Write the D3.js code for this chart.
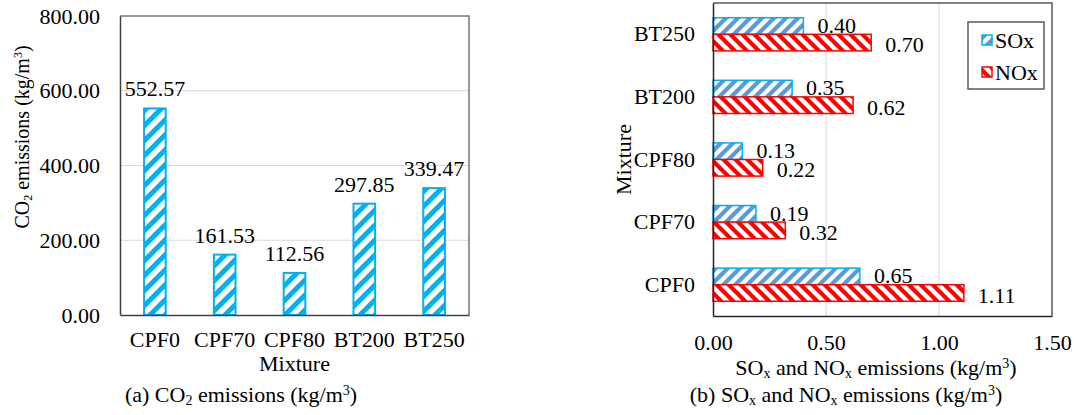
<!DOCTYPE html>
<html>
<head>
<meta charset="utf-8">
<script src="https://cdn.jsdelivr.net/npm/d3@7/dist/d3.min.js"></script>
<style>
  html, body { margin: 0; padding: 0; background: #fff; }
  svg { display: block; }
  svg text { font-family: "Liberation Serif", "Times New Roman", serif; }
</style>
</head>
<body>
<svg id="chart" width="1074" height="415"></svg>
<script>
// ---------- Data ----------
const co2Categories = ["CPF0", "CPF70", "CPF80", "BT200", "BT250"];
const co2Values = [552.57, 161.53, 112.56, 297.85, 339.47];
const co2Ticks = [0, 200, 400, 600, 800];

const gasCategories = ["BT250", "BT200", "CPF80", "CPF70", "CPF0"]; // top to bottom
const gasSeriesNames = ["SOx", "NOx"];
const soxValues = { CPF0: 0.65, CPF70: 0.19, CPF80: 0.13, BT200: 0.35, BT250: 0.40 };
const noxValues = { CPF0: 1.11, CPF70: 0.32, CPF80: 0.22, BT200: 0.62, BT250: 0.70 };
const gasTicks = [0, 0.5, 1.0, 1.5];

// ---------- Setup ----------
const svg = d3.select("#chart");
const FS = 22;
const CAP = 22;
const FONT = "'Liberation Serif', 'Times New Roman', serif";
const defs = svg.append("defs");

function stripePattern(id, color, size, dir, sw) {
  const p = defs.append("pattern").attr("id", id)
    .attr("patternUnits", "userSpaceOnUse")
    .attr("width", size).attr("height", size);
  p.append("rect").attr("width", size).attr("height", size).attr("fill", "#fff");
  const s = size;
  const d = dir === "up"
    ? `M${-s},${s} L${s},${-s} M0,${2*s} L${2*s},0 M${-s},${2*s} L${2*s},${-s}`
    : `M${-s},0 L${s},${2*s} M0,${-s} L${2*s},${s} M${-s},${-s} L${2*s},${2*s}`;
  p.append("path").attr("d", d).attr("stroke", color).attr("stroke-width", sw).attr("fill", "none");
}
stripePattern("co2pat", "#00B0F0", 15, "up", 5);
stripePattern("soxpat", "#5B9BD5", 12, "up", 4.2);
stripePattern("noxpat", "#FF0000", 12, "down", 4.2);

function richText(sel, parts, fs) {
  parts.forEach(([t, mode]) => {
    const ts = sel.append("tspan").text(t);
    if (mode === "sub") ts.attr("font-size", Math.round(fs * 0.62)).attr("baseline-shift", -Math.round(fs * 0.14));
    if (mode === "sup") ts.attr("font-size", Math.round(fs * 0.62)).attr("baseline-shift", Math.round(fs * 0.33));
  });
  return sel;
}

// ---------- Left chart: CO2 ----------
const L = { left: 120, right: 469, top: 16, bottom: 315 };
const xL = d3.scaleBand().domain(co2Categories).range([L.left, L.right]).padding(0);
const yL = d3.scaleLinear().domain([0, 800]).range([L.bottom, L.top]);
const gL = svg.append("g");

gL.selectAll("line.grid").data(co2Ticks.filter(t => t > 0 && t < 800)).enter()
  .append("line").attr("x1", L.left).attr("x2", L.right)
  .attr("y1", d => yL(d)).attr("y2", d => yL(d))
  .attr("stroke", "#D9D9D9").attr("stroke-width", 1);

gL.append("path")
  .attr("d", `M${L.left},${L.top} H${L.right} V${L.bottom}`)
  .attr("fill", "none").attr("stroke", "#767676").attr("stroke-width", 1.5);

const barW = xL.bandwidth() * 0.31;
gL.selectAll("rect.bar").data(co2Values).enter().append("rect")
  .attr("x", (d, i) => xL(co2Categories[i]) + xL.bandwidth() / 2 - barW / 2)
  .attr("y", d => yL(d))
  .attr("width", barW)
  .attr("height", d => yL(0) - yL(d))
  .attr("fill", "url(#co2pat)")
  .attr("stroke", "#00B0F0").attr("stroke-width", 2);

gL.selectAll("text.val").data(co2Values).enter().append("text")
  .attr("x", (d, i) => xL(co2Categories[i]) + xL.bandwidth() / 2)
  .attr("y", d => yL(d) - 12)
  .attr("text-anchor", "middle").attr("font-size", FS).attr("fill", "#000")
  .text(d => d.toFixed(2));

const axL = d3.axisLeft(yL).tickValues(co2Ticks).tickFormat(d => d.toFixed(2)).tickSize(0).tickPadding(20);
const gAxL = gL.append("g").attr("transform", `translate(${L.left},0)`).call(axL);
gAxL.select(".domain").attr("stroke", "#404040").attr("stroke-width", 1.5);
gAxL.selectAll("text").attr("font-size", FS).attr("fill", "#000");

const axB = d3.axisBottom(xL).tickSize(0).tickPadding(16);
const gAxB = gL.append("g").attr("transform", `translate(0,${L.bottom})`).call(axB);
gAxB.select(".domain").attr("stroke", "#404040").attr("stroke-width", 1.5);
gAxB.selectAll("text").attr("font-size", FS).attr("fill", "#000");

gL.append("text").attr("x", (L.left + L.right) / 2).attr("y", 371).attr("text-anchor", "middle")
  .attr("font-size", FS).text("Mixture");

richText(gL.append("text")
  .attr("transform", `translate(29,137) rotate(-90)`)
  .attr("text-anchor", "middle").attr("font-size", 20),
  [["CO", ""], ["2", "sub"], [" emissions (kg/m", ""], ["3", "sup"], [")", ""]], 20);

richText(gL.append("text").attr("x", 241).attr("y", 402).attr("text-anchor", "middle").attr("font-size", CAP),
  [["(a) CO", ""], ["2", "sub"], [" emissions (kg/m", ""], ["3", "sup"], [")", ""]], CAP);

// ---------- Right chart: SOx / NOx ----------
const R = { left: 713, right: 1052, top: 3, bottom: 316 };
const xR = d3.scaleLinear().domain([0, 1.5]).range([R.left, R.right]);
const yR = d3.scaleBand().domain(gasCategories).range([R.top, R.bottom]).padding(0);
const ySub = d3.scaleBand().domain(gasSeriesNames).range([0, yR.bandwidth() * 0.53]).padding(0);
const gR = svg.append("g");

gR.selectAll("line.grid").data(gasTicks.filter(t => t > 0 && t < 1.5)).enter()
  .append("line").attr("y1", R.top).attr("y2", R.bottom)
  .attr("x1", d => xR(d)).attr("x2", d => xR(d))
  .attr("stroke", "#D9D9D9").attr("stroke-width", 1);

gR.append("path")
  .attr("d", `M${R.left},${R.top} H${R.right} V${R.bottom}`)
  .attr("fill", "none").attr("stroke", "#595959").attr("stroke-width", 1.5);

const groupOff = (yR.bandwidth() - ySub.range()[1]) / 2;
const seriesData = [
  { name: "SOx", vals: soxValues, fill: "url(#soxpat)", stroke: "#00B0F0", dy: -1 },
  { name: "NOx", vals: noxValues, fill: "url(#noxpat)", stroke: "#FF0000", dy: 2 }
];
seriesData.forEach(s => {
  const rows = gasCategories.map(c => ({ c, v: s.vals[c] }));
  gR.selectAll(null).data(rows).enter().append("rect")
    .attr("x", xR(0))
    .attr("y", d => yR(d.c) + groupOff + ySub(s.name))
    .attr("width", d => xR(d.v) - xR(0))
    .attr("height", ySub.bandwidth())
    .attr("fill", s.fill).attr("stroke", s.stroke).attr("stroke-width", 1.5);
  gR.selectAll(null).data(rows).enter().append("text")
    .attr("x", d => xR(d.v) + 14)
    .attr("y", d => yR(d.c) + groupOff + ySub(s.name) + ySub.bandwidth() / 2 + s.dy)
    .attr("dy", "0.35em").attr("font-size", FS).attr("fill", "#000")
    .text(d => d.v.toFixed(2));
});

const axRL = d3.axisLeft(yR).tickSize(0).tickPadding(18);
const gAxRL = gR.append("g").attr("transform", `translate(${R.left},0)`).call(axRL);
gAxRL.select(".domain").attr("stroke", "#262626").attr("stroke-width", 1.5);
gAxRL.selectAll("text").attr("font-size", FS).attr("fill", "#000");

const axRB = d3.axisBottom(xR).tickValues(gasTicks).tickFormat(d => d.toFixed(2)).tickSize(0).tickPadding(18);
const gAxRB = gR.append("g").attr("transform", `translate(0,${R.bottom})`).call(axRB);
gAxRB.select(".domain").attr("stroke", "#262626").attr("stroke-width", 1.5);
gAxRB.selectAll("text").attr("font-size", FS).attr("fill", "#000");

gR.append("text")
  .attr("transform", `translate(631,${(R.top + R.bottom) / 2}) rotate(-90)`)
  .attr("text-anchor", "middle").attr("font-size", FS).text("Mixture");

richText(gR.append("text").attr("x", 876).attr("y", 375).attr("text-anchor", "middle").attr("font-size", FS),
  [["SO", ""], ["x", "sub"], [" and NO", ""], ["x", "sub"], [" emissions (kg/m", ""], ["3", "sup"], [")", ""]], FS);

richText(gR.append("text").attr("x", 846).attr("y", 402).attr("text-anchor", "middle").attr("font-size", CAP),
  [["(b) SO", ""], ["x", "sub"], [" and NO", ""], ["x", "sub"], [" emissions (kg/m", ""], ["3", "sup"], [")", ""]], CAP);

const leg = gR.append("g");
leg.append("rect").attr("x", 968).attr("y", 22).attr("width", 76).attr("height", 67)
  .attr("fill", "#fff").attr("stroke", "#595959").attr("stroke-width", 1.5);
seriesData.forEach((s, i) => {
  const cy = 40 + i * 32;
  leg.append("rect").attr("x", 982).attr("y", cy - 5).attr("width", 10).attr("height", 10)
    .attr("fill", s.fill).attr("stroke", s.stroke).attr("stroke-width", 1.5);
  leg.append("text").attr("x", 995).attr("y", cy).attr("dy", "0.35em")
    .attr("font-size", FS).text(s.name);
});

svg.selectAll("g").attr("font-family", FONT);
svg.selectAll("text").attr("font-family", FONT);
</script>
</body>
</html>
